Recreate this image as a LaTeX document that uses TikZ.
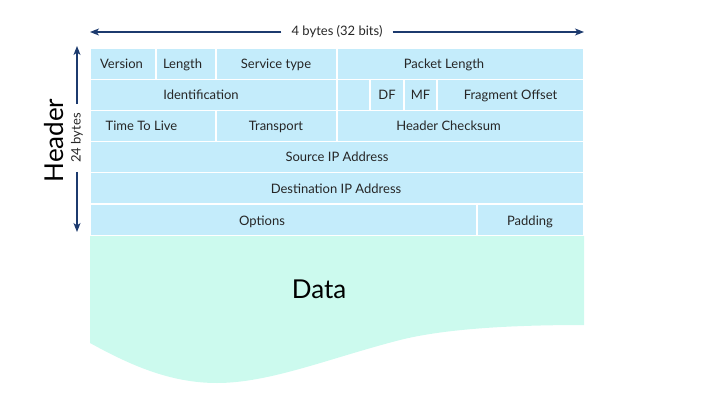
\documentclass[tikz,border=0pt]{standalone}
\usepackage{fontspec}
\setmainfont{Lato}
\usepackage{tikz}
\usetikzlibrary{arrows.meta}
\definecolor{cellblue}{HTML}{C4ECFB}
\definecolor{datamint}{HTML}{CCFAEE}
\definecolor{arrowblue}{HTML}{1C3A6E}
\definecolor{textgray}{HTML}{262626}

\begin{document}
\begin{tikzpicture}
  [x=1pt,y=-1pt,
   cell/.style={fill=cellblue,draw=white,line width=1.2pt},
   field/.style={text=textgray,font=\fontsize{13}{15}\selectfont,inner sep=0pt,text height=9.4pt,text depth=0pt},
   dim/.style={text=textgray,font=\fontsize{13}{15}\selectfont,inner ysep=0pt},
   big/.style={text=black,font=\fontsize{26}{30}\selectfont,inner sep=0pt,text height=18.6pt,text depth=0pt},
   arr/.style={draw=arrowblue,line width=1.1pt,-{Stealth[length=9pt,width=7pt,inset=2.5pt]}}]
  \useasboundingbox (0,0) rectangle (714,409);

  \fill [datamint] (90,235.2) -- (584,235.2) -- (584,325)
    .. controls (500,325) and (440,330) .. (400,340)
    .. controls (330,358) and (270,383) .. (217,383)
    .. controls (170,383) and (130,365) .. (90,343) -- cycle;

  \foreach \xa/\ya/\xb/\yb in {90/48/156/79.2,156/48/216/79.2,216/48/337/79.2,337/48/584/79.2,
      90/79.2/337/110.4,337/79.2/370/110.4,370/79.2/404/110.4,404/79.2/437/110.4,437/79.2/584/110.4,
      90/110.4/216/141.6,216/110.4/337/141.6,337/110.4/584/141.6,
      90/141.6/584/172.8,
      90/172.8/584/204,
      90/204/477/235.2,477/204/584/235.2}
    \path [cell] (\xa,\ya) rectangle (\xb,\yb);

  \foreach \name/\x/\y/\txt in {version/121.5/63.6/Version,length/182.5/63.6/Length,
      service/276/63.6/Service type,packetlen/444/63.6/Packet Length,
      ident/201/94.8/Identification,df/387/94.8/DF,mf/420.5/94.8/MF,fragoff/510.5/94.8/Fragment Offset,
      ttl/141.5/126/Time To Live,transport/276/126/Transport,checksum/448.5/126/Header Checksum,
      srcip/337/157.2/Source IP Address,
      dstip/336/188.4/Destination IP Address,
      options/262/220.5/Options,padding/530/220.5/Padding}
    \node [field] (\name) at (\x,\y) {\txt};

  \node [big] (data) at (319,289.5) {Data};
  \node [big,rotate=90] (header) at (54,140.5) {Header};

  \node [dim,inner xsep=10pt] (width) at (337,32) {4 bytes (32 bits)};
  \coordinate (wl) at (90,32);
  \coordinate (wr) at (584,32);
  \node [dim,rotate=90,inner xsep=9pt] (height) at (77,138) {24 bytes};
  \coordinate (ht) at (77,46);
  \coordinate (hb) at (77,232);

  \foreach \from/\to in {width/wl,width/wr,height/ht,height/hb}
    \draw [arr] (\from) -- (\to);

\end{tikzpicture}
\end{document}
